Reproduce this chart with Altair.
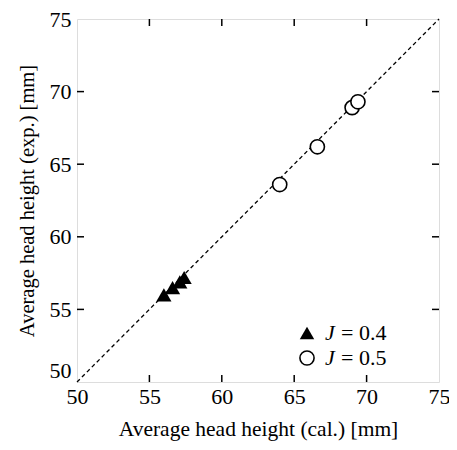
import altair as alt
import pandas as pd

# data
j04_cal = [56.0, 56.6, 57.1, 57.4]
j04_exp = [56.0, 56.5, 56.9, 57.2]
j05_cal = [64.0, 66.6, 69.0, 69.4]
j05_exp = [63.6, 66.2, 68.9, 69.3]
ticks = [50, 55, 60, 65, 70, 75]
inner_ticks = [55, 60, 65, 70]
diag = [50, 75]

W, H = 362, 363
FONT = "Liberation Serif, Times New Roman, serif"

df04 = pd.DataFrame({"x": j04_cal, "y": j04_exp})
df05 = pd.DataFrame({"x": j05_cal, "y": j05_exp})
ddiag = pd.DataFrame({"x": diag, "y": diag})
dticks = pd.DataFrame({"v": inner_ticks})

xs = alt.Scale(domain=[50, 75], nice=False, zero=False)
ys = alt.Scale(domain=[50, 75], nice=False, zero=False)

xaxis = alt.Axis(values=ticks, tickSize=0, domain=False, grid=False,
                 labelFont=FONT, labelFontSize=22, labelColor="black",
                 labelPadding=4, title="Average head height (cal.) [mm]",
                 titleFont=FONT, titleFontSize=21.5, titleFontWeight="normal",
                 titleColor="black", titlePadding=11, labelFlush=False)
yaxis = alt.Axis(values=ticks, tickSize=0, domain=False, grid=False,
                 labelFont=FONT, labelFontSize=22, labelColor="black",
                 labelPadding=6, title="Average head height (exp.) [mm]",
                 titleFont=FONT, titleFontSize=20.5, titleFontWeight="normal",
                 titleColor="black", titlePadding=12, labelFlush=False,
                 labelBaseline={"condition": {"test": "datum.value == 50", "value": "bottom"},
                                "value": "middle"})

line = alt.Chart(ddiag).mark_line(color="black", strokeDash=[4, 3], strokeWidth=1.3).encode(
    x=alt.X("x:Q", scale=xs, axis=xaxis),
    y=alt.Y("y:Q", scale=ys, axis=yaxis),
)

tri = alt.Chart(df04).mark_point(shape="triangle-up", filled=True, color="black",
                                 size=230, opacity=1).encode(
    x=alt.X("x:Q", scale=xs), y=alt.Y("y:Q", scale=ys))

circ = alt.Chart(df05).mark_point(shape="circle", filled=True, fill="white",
                                  stroke="black", strokeWidth=1.6, size=200,
                                  opacity=1).encode(
    x=alt.X("x:Q", scale=xs), y=alt.Y("y:Q", scale=ys))

TL = 7
tb = alt.Chart(dticks).mark_rule(color="black", strokeWidth=1.5).encode(
    x=alt.X("v:Q", scale=xs), y=alt.value(H), y2=alt.value(H - TL))
tt = alt.Chart(dticks).mark_rule(color="black", strokeWidth=1.5).encode(
    x=alt.X("v:Q", scale=xs), y=alt.value(0), y2=alt.value(TL))
tl = alt.Chart(dticks).mark_rule(color="black", strokeWidth=1.5).encode(
    y=alt.Y("v:Q", scale=ys), x=alt.value(0), x2=alt.value(TL))
tr = alt.Chart(dticks).mark_rule(color="black", strokeWidth=1.5).encode(
    y=alt.Y("v:Q", scale=ys), x=alt.value(W), x2=alt.value(W - TL))

# legend
leg_shapes = ["triangle-up", "circle"]
leg_vals = ["0.4", "0.5"]
leg_y = [314, 339]
legdf = pd.DataFrame({"shape": leg_shapes, "val": leg_vals, "py": leg_y,
                      "lab": ["= " + v for v in leg_vals]})

leg_tri = alt.Chart(legdf.iloc[[0]]).mark_point(shape="triangle-up", filled=True,
                                                 color="black", size=210, opacity=1).encode(
    x=alt.value(230), y=alt.Y("py:Q", scale=None))
leg_circ = alt.Chart(legdf.iloc[[1]]).mark_point(shape="circle", filled=True, fill="white",
                                                  stroke="black", strokeWidth=1.6, size=200,
                                                  opacity=1).encode(
    x=alt.value(230), y=alt.Y("py:Q", scale=None))
leg_j = alt.Chart(legdf).mark_text(text="J", font=FONT, fontSize=22, fontStyle="italic",
                                   align="left", baseline="middle", color="black").encode(
    x=alt.value(248), y=alt.Y("py:Q", scale=None))
leg_t = alt.Chart(legdf).mark_text(font=FONT, fontSize=22, align="left",
                                   baseline="middle", color="black").encode(
    x=alt.value(264), y=alt.Y("py:Q", scale=None), text="lab:N")

chart = alt.layer(line, tb, tt, tl, tr, tri, circ, leg_tri, leg_circ, leg_j, leg_t).properties(
    width=W, height=H,
    autosize=alt.AutoSizeParams(type="none"),
    padding={"left": 69, "top": 11, "right": 10, "bottom": 60},
).configure_view(stroke="black", strokeWidth=2).configure(background="white")

chart.save("out.html", embed_options={"renderer": "svg", "actions": False})
